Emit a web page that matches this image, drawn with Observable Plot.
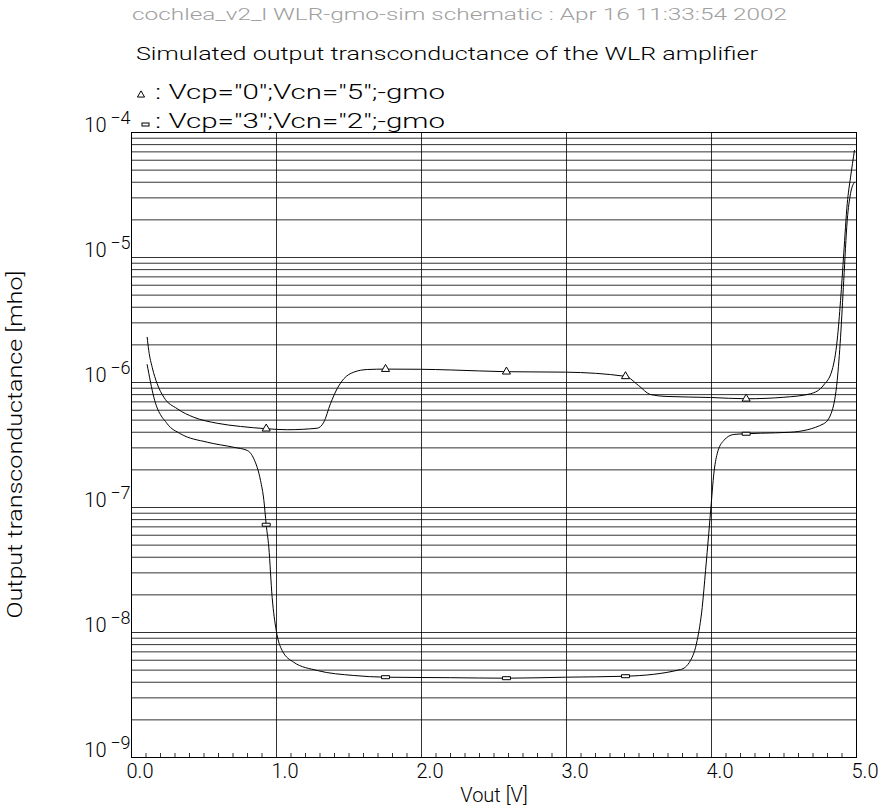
<!DOCTYPE html>
<html>
<head>
<meta charset="utf-8">
<script src="https://cdn.jsdelivr.net/npm/d3@7"></script>
<script src="https://cdn.jsdelivr.net/npm/@observablehq/plot@0.6"></script>
<style>
  body { margin: 0; background: #fff; }
  #wrap { position: relative; width: 886px; height: 810px; }
  #wrap svg { display: block; }
  #overlay { position: absolute; left: 0; top: 0; pointer-events: none; }
</style>
</head>
<body>
<div id="wrap"></div>
<script>
// ---------- data ----------
const subtitleText = "cochlea_v2_l WLR-gmo-sim schematic : Apr 16 11:33:54 2002";
const titleText = "Simulated output transconductance of the WLR amplifier";
const legendLabels = [': Vcp="0";Vcn="5";-gmo', ': Vcp="3";Vcn="2";-gmo'];
const xLabel = "Vout [V]";
const yLabel = "Output transconductance [mho]";

const xTicks = [0, 1, 2, 3, 4, 5];
const xTickLabels = ["0.0", "1.0", "2.0", "3.0", "4.0", "5.0"];
const yDecades = [1e-9, 1e-8, 1e-7, 1e-6, 1e-5, 1e-4];
const yTickBase = ["10", "10", "10", "10", "10", "10"];
const yTickExp = ["\u22129", "\u22128", "\u22127", "\u22126", "\u22125", "\u22124"];

// series 1: Vcp="0";Vcn="5" (triangle)
const upperV = [0.108, 0.119, 0.143, 0.177, 0.223, 0.315, 0.430, 0.591, 0.752, 0.929, 1.074, 1.281, 1.326, 1.372, 1.418, 1.464, 1.533, 1.626, 1.752, 1.993, 2.2, 2.586, 2.993, 3.407, 3.497, 3.579, 3.694, 3.993, 4.239, 4.499, 4.683, 4.774, 4.832, 4.867, 4.890, 4.912, 4.936, 4.959, 4.986];
const upperG = [2.30e-6, 1.80e-6, 1.32e-6, 9.77e-7, 7.62e-7, 6.17e-7, 5.27e-7, 4.72e-7, 4.45e-7, 4.27e-7, 4.19e-7, 4.31e-7, 4.81e-7, 6.76e-7, 8.91e-7, 1.07e-6, 1.21e-6, 1.27e-6, 1.28e-6, 1.276e-6, 1.26e-6, 1.22e-6, 1.21e-6, 1.12e-6, 9.46e-7, 8.02e-7, 7.73e-7, 7.59e-7, 7.41e-7, 7.62e-7, 8.13e-7, 9.55e-7, 1.26e-6, 2.19e-6, 4.53e-6, 1.07e-5, 2.69e-5, 4.39e-5, 7.18e-5];

// series 2: Vcp="3";Vcn="2" (rectangle)
const lowerV = [0.108, 0.154, 0.246, 0.338, 0.522, 0.706, 0.798, 0.844, 0.890, 0.913, 0.929, 0.947, 0.970, 0.998, 1.039, 1.119, 1.280, 1.533, 1.752, 2.2, 2.586, 2.993, 3.412, 3.786, 3.855, 3.901, 3.936, 3.959, 3.981, 3.998, 4.016, 4.039, 4.085, 4.154, 4.239, 4.338, 4.545, 4.774, 4.832, 4.867, 4.890, 4.912, 4.936, 4.959, 4.986];
const lowerG = [1.39e-6, 7.62e-7, 4.68e-7, 3.89e-7, 3.33e-7, 3.03e-7, 2.86e-7, 2.45e-7, 1.64e-7, 1.14e-7, 7.28e-8, 4.81e-8, 1.91e-8, 1.04e-8, 7.18e-9, 5.78e-9, 4.97e-9, 4.53e-9, 4.39e-9, 4.35e-9, 4.31e-9, 4.39e-9, 4.47e-9, 5.05e-9, 5.97e-9, 8.63e-9, 1.59e-8, 3.13e-8, 6.17e-8, 1.07e-7, 1.86e-7, 2.69e-7, 3.44e-7, 3.84e-7, 3.89e-7, 3.93e-7, 4.00e-7, 4.68e-7, 5.97e-7, 1.04e-6, 2.30e-6, 6.55e-6, 1.98e-5, 3.25e-5, 4.00e-5];

const markerV = [0.929, 1.752, 2.586, 3.407, 4.239];
const upperMarkG = [4.27e-7, 1.28e-6, 1.22e-6, 1.12e-6, 7.41e-7];
const lowerMarkG = [7.28e-8, 4.39e-9, 4.31e-9, 4.47e-9, 3.89e-7];

// ---------- derived tables ----------
const upper = upperV.map((v, i) => ({v, g: upperG[i]}));
const lower = lowerV.map((v, i) => ({v, g: lowerG[i]}));
const upperMarks = markerV.map((v, i) => ({v, g: upperMarkG[i]}));
const lowerMarks = markerV.map((v, i) => ({v, g: lowerMarkG[i]}));

const yGrid = yDecades.slice(0, 5).flatMap(d => [1, 2, 3, 4, 5, 6, 7, 8, 9].map(m => m * d)).slice(1);
const xGrid = [1, 2, 3, 4];
const xMinor = d3.range(1, 50).filter(k => k % 10 !== 0).map(k => k / 10);

// ---------- layout ----------
const W = 886, H = 810, mt = 132, ml = 131, mr = 30, mb = 53;
const FONT = "Roboto, 'DejaVu Sans', sans-serif";

const rectSymbol = {
  draw(context) { context.rect(-4, -1.5, 8, 3); }
};

const plot = Plot.plot({
  width: W, height: H,
  marginTop: mt, marginLeft: ml, marginRight: mr, marginBottom: mb,
  x: {domain: [0, 5], axis: null},
  y: {type: "log", domain: [1e-9, 1e-4], axis: null},
  style: {fontFamily: FONT, fontSize: "20px", fontWeight: 300, color: "#000", background: "#fff"},
  marks: [
    Plot.ruleY(yGrid, {stroke: "#000", strokeOpacity: 0.8}),
    Plot.ruleX(xGrid, {stroke: "#000", strokeOpacity: 0.8}),
    Plot.tickX(xMinor, {x: d => d, insetTop: H - mt - mb - 4, stroke: "#000", strokeOpacity: 0.8}),
    Plot.frame({stroke: "#000"}),
    Plot.line(upper, {x: "v", y: "g", curve: "monotone-x", stroke: "#000", strokeWidth: 1}),
    Plot.line(lower, {x: "v", y: "g", curve: "monotone-x", stroke: "#000", strokeWidth: 1}),
    Plot.dot(upperMarks, {x: "v", y: "g", symbol: "triangle", r: 3, stroke: "#000", fill: "#fff", strokeWidth: 1}),
    Plot.dot(lowerMarks, {x: "v", y: "g", symbol: rectSymbol, r: 3, stroke: "#000", fill: "#fff", strokeWidth: 1}),
    Plot.text(xTicks, {x: d => d, text: xTickLabels, frameAnchor: "bottom", textAnchor: "start", lineAnchor: "top", dx: -5, dy: 6, fill: "#000"}),
    Plot.text(yDecades, {y: d => d, text: yTickBase, frameAnchor: "left", textAnchor: "end", lineAnchor: "bottom", dx: -25, dy: -1, fill: "#000"}),
    Plot.text(yDecades, {y: d => d, text: yTickExp, frameAnchor: "left", textAnchor: "end", lineAnchor: "bottom", dx: -1, dy: -9, fontSize: 18, fill: "#000"}),
    Plot.text([xLabel], {frameAnchor: "bottom", lineAnchor: "bottom", dy: 44, fill: "#000"})
  ]
});

const wrap = document.getElementById("wrap");
wrap.appendChild(plot);

// ---------- titles, legend and y label overlay ----------
const ov = d3.select(wrap).append("svg")
  .attr("id", "overlay")
  .attr("width", W).attr("height", H)
  .style("font-family", FONT).style("font-weight", 300);

ov.append("text").attr("x", 132).attr("y", 20)
  .attr("font-size", 17).attr("fill", "#a0a0a0")
  .attr("textLength", 655).attr("lengthAdjust", "spacingAndGlyphs")
  .text(subtitleText);

ov.append("text").attr("x", 136).attr("y", 60)
  .attr("font-size", 18).attr("fill", "#000")
  .attr("textLength", 622).attr("lengthAdjust", "spacingAndGlyphs")
  .text(titleText);

const legY = [99, 128];
const tri = d3.symbol(d3.symbolTriangle, 22)();
ov.append("path").attr("d", tri).attr("transform", `translate(141,${legY[0] - 4})`)
  .attr("fill", "#fff").attr("stroke", "#000");
ov.append("rect").attr("x", 142).attr("y", legY[1] - 5).attr("width", 7).attr("height", 3)
  .attr("fill", "#fff").attr("stroke", "#000");
legendLabels.forEach((t, i) => {
  ov.append("text").attr("x", 155).attr("y", legY[i])
    .attr("font-size", 20).attr("fill", "#000")
    .attr("textLength", 290).attr("lengthAdjust", "spacingAndGlyphs")
    .text(t);
});

ov.append("text")
  .attr("transform", `translate(22,${(mt + H - mb) / 2}) rotate(-90)`)
  .attr("text-anchor", "middle")
  .attr("font-size", 20).attr("fill", "#000")
  .attr("textLength", 348).attr("lengthAdjust", "spacingAndGlyphs")
  .text(yLabel);
</script>
</body>
</html>
